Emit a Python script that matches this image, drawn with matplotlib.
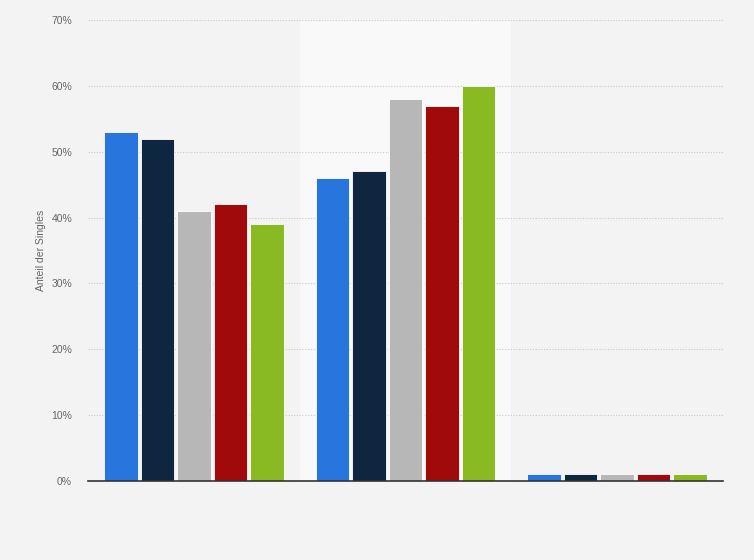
import matplotlib
matplotlib.use("Agg")
import matplotlib.pyplot as plt
import numpy as np

plt.rcParams['font.family'] = ['Liberation Sans', 'DejaVu Sans']

categories = ["A", "B", "C"]
series_names = ["S1", "S2", "S3", "S4", "S5"]
values = [
    [53, 46, 1],
    [52, 47, 1],
    [41, 58, 1],
    [42, 57, 1],
    [39, 60, 1],
]
colors = ["#2876dd", "#0f2640", "#b7b7b7", "#a10a0a", "#8aba22"]
yticks = [0, 10, 20, 30, 40, 50, 60, 70]
ytick_labels = ["0%", "10%", "20%", "30%", "40%", "50%", "60%", "70%"]

W, H = 754, 560
fig = plt.figure(figsize=(W / 100, H / 100), dpi=100)
fig.patch.set_facecolor("#f3f3f3")
ax = fig.add_axes([88 / W, 1 - 481 / H, (723 - 88) / W, (481 - 20) / H])
ax.set_facecolor("#f3f3f3")

x = np.arange(len(categories))
ax.axvspan(0.5, 1.5, color="#f9f9f9", zorder=0, lw=0)

slot = 0.1725
bw = 0.158
for i, (name, vals) in enumerate(zip(series_names, values)):
    off = (i - 2) * slot
    ax.bar(x + off, vals, width=bw, color=colors[i], edgecolor="white",
           linewidth=0.6, zorder=3, label=name)

ax.set_xlim(-0.5, 2.5)
ax.set_ylim(0, 70)
ax.set_yticks(yticks)
ax.set_yticklabels(ytick_labels, fontsize=7.5, color="#666666")
ax.set_xticks([])
ax.tick_params(axis="y", length=0, pad=11.5)
ax.grid(axis="y", color="#c8c8c8", linestyle=(0, (1, 1.5)), linewidth=0.8, zorder=1)
for s in ["top", "right", "left"]:
    ax.spines[s].set_visible(False)
ax.spines["bottom"].set_color("#333333")
ax.spines["bottom"].set_linewidth(1.2)
ax.spines["bottom"].set_zorder(4)
ax.set_ylabel("Anteil der Singles", fontsize=7.5, color="#666666", labelpad=3.5)

fig.savefig("out.png", dpi=100, facecolor=fig.get_facecolor())
